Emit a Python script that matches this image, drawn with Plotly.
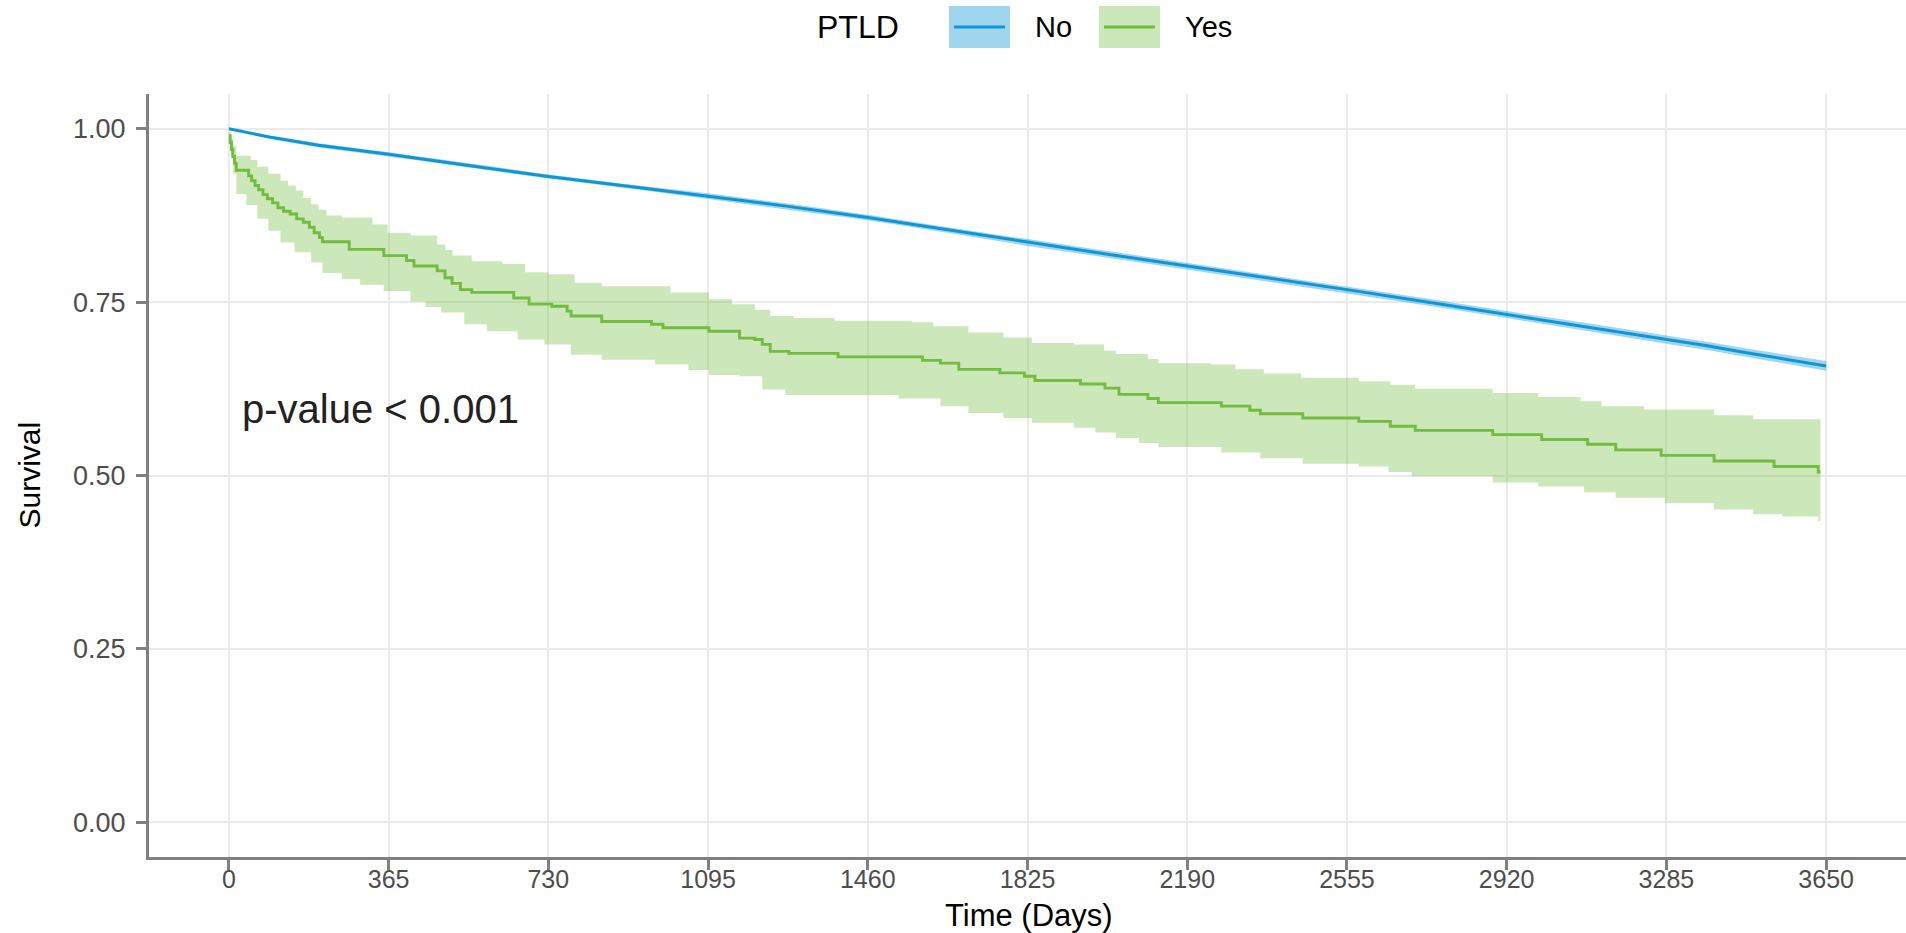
import plotly.graph_objects as go

# ---------------- data ----------------
# PTLD = No (blue), smooth KM curve
no_days = [0, 92, 205, 365, 548, 730, 912, 1095, 1278, 1460, 1643, 1825, 2008, 2190,
           2373, 2555, 2738, 2920, 3103, 3285, 3378, 3468, 3650]
no_surv = [1.000, 0.988, 0.976, 0.963, 0.947, 0.931, 0.917, 0.903, 0.888, 0.872, 0.854,
           0.836, 0.819, 0.802, 0.785, 0.768, 0.750, 0.732, 0.714, 0.696, 0.687, 0.677, 0.658]
no_lower = [1.000, 0.986, 0.973, 0.960, 0.944, 0.928, 0.914, 0.899, 0.884, 0.868, 0.850,
            0.831, 0.814, 0.797, 0.780, 0.763, 0.745, 0.727, 0.708, 0.690, 0.681, 0.671, 0.651]
no_upper = [1.000, 0.990, 0.979, 0.966, 0.950, 0.934, 0.920, 0.907, 0.892, 0.876, 0.858,
            0.841, 0.824, 0.807, 0.790, 0.773, 0.755, 0.737, 0.720, 0.702, 0.693, 0.683, 0.665]

# PTLD = Yes (green), step KM curve
yes_days = [0, 3, 6, 9, 13, 17, 45, 52, 60, 68, 78, 88, 100, 112, 125, 140, 155, 170, 184,
            195, 207, 214, 275, 354, 406, 423, 476, 494, 510, 529, 555, 651, 686, 738, 773,
            782, 852, 966, 992, 1097, 1167, 1202, 1219, 1237, 1280, 1392, 1585, 1626, 1668,
            1762, 1818, 1842, 1946, 2002, 2034, 2100, 2124, 2268, 2333, 2357, 2454, 2582,
            2654, 2711, 2888, 3000, 3105, 3169, 3273, 3394, 3531, 3632, 3637]
yes_surv = [0.990, 0.980, 0.970, 0.960, 0.950, 0.940, 0.932, 0.925, 0.918, 0.912, 0.905,
            0.899, 0.893, 0.886, 0.881, 0.877, 0.870, 0.865, 0.858, 0.850, 0.843, 0.837,
            0.826, 0.817, 0.810, 0.802, 0.795, 0.785, 0.777, 0.768, 0.764, 0.756, 0.747,
            0.744, 0.737, 0.730, 0.722, 0.718, 0.713, 0.708, 0.698, 0.696, 0.689, 0.679,
            0.676, 0.671, 0.666, 0.662, 0.653, 0.648, 0.643, 0.637, 0.632, 0.626, 0.617,
            0.611, 0.605, 0.600, 0.594, 0.589, 0.583, 0.578, 0.571, 0.565, 0.559, 0.552,
            0.545, 0.537, 0.529, 0.521, 0.513, 0.505, 0.505]

yes_up_days = [0, 5, 10, 17, 50, 65, 90, 118, 135, 153, 170, 188, 205, 223, 258, 328, 363,
               415, 476, 495, 511, 555, 625, 677, 730, 790, 852, 1009, 1097, 1150, 1202,
               1237, 1290, 1384, 1561, 1610, 1690, 1770, 1835, 1931, 2000, 2027, 2100, 2124,
               2244, 2300, 2365, 2450, 2582, 2654, 2711, 2888, 2992, 3089, 3137, 3234, 3394,
               3483, 3637]
yes_upper = [0.995, 0.985, 0.975, 0.961, 0.955, 0.945, 0.935, 0.925, 0.918, 0.911, 0.900,
             0.891, 0.883, 0.875, 0.872, 0.862, 0.850, 0.846, 0.833, 0.825, 0.817, 0.809,
             0.805, 0.793, 0.790, 0.778, 0.773, 0.764, 0.754, 0.747, 0.739, 0.730, 0.727,
             0.723, 0.721, 0.715, 0.706, 0.699, 0.691, 0.689, 0.680, 0.675, 0.668, 0.662,
             0.660, 0.653, 0.647, 0.641, 0.636, 0.631, 0.625, 0.619, 0.613, 0.607, 0.600,
             0.595, 0.587, 0.581, 0.578]

yes_lo_days = [0, 5, 10, 17, 40, 65, 90, 118, 150, 188, 214, 258, 300, 354, 415, 450, 485,
               538, 590, 660, 721, 782, 852, 974, 1050, 1097, 1167, 1219, 1272, 1530, 1626,
               1690, 1770, 1835, 1931, 1980, 2027, 2080, 2124, 2268, 2357, 2454, 2582, 2650,
               2703, 2888, 2992, 3097, 3169, 3282, 3394, 3483, 3550, 3632, 3637]
yes_lower = [0.985, 0.960, 0.935, 0.906, 0.890, 0.870, 0.853, 0.836, 0.822, 0.807, 0.792,
             0.783, 0.775, 0.766, 0.751, 0.743, 0.735, 0.718, 0.708, 0.696, 0.689, 0.674,
             0.667, 0.660, 0.652, 0.645, 0.643, 0.624, 0.616, 0.611, 0.600, 0.590, 0.583,
             0.576, 0.569, 0.562, 0.554, 0.547, 0.541, 0.533, 0.525, 0.517, 0.513, 0.505,
             0.499, 0.490, 0.484, 0.476, 0.468, 0.460, 0.451, 0.444, 0.441, 0.434, 0.434]

x_ticks = [0, 365, 730, 1095, 1460, 1825, 2190, 2555, 2920, 3285, 3650]
y_ticks = [0, 0.25, 0.5, 0.75, 1.0]
y_tick_labels = ["0.00", "0.25", "0.50", "0.75", "1.00"]
groups = ["No", "Yes"]
legend_title = "PTLD"
p_text = "p-value < 0.001"

# ---------------- style ----------------
BLUE = "#0f96d6"
GREEN = "#72bc40"
BLUE_FILL = "rgba(15,150,214,0.40)"
GREEN_FILL = "rgba(116,189,68,0.37)"
FONT = "Liberation Sans, Arial, sans-serif"
AXIS_GREY = "#808080"
GRID = "#ebebeb"

W, H = 1906, 933
L, R, T, B = 149, 0, 94, 76
PW, PH = W - L - R, H - T - B


def px_x(px):
    return (px - L) / PW


def px_y(py):
    return (H - B - py) / PH


fig = go.Figure()

# Blue band + line
fig.add_trace(go.Scatter(x=no_days, y=no_lower, mode="lines", line=dict(width=0, color=BLUE),
                         showlegend=False, hoverinfo="skip"))
fig.add_trace(go.Scatter(x=no_days, y=no_upper, mode="lines", line=dict(width=0, color=BLUE),
                         fill="tonexty", fillcolor=BLUE_FILL, showlegend=False, hoverinfo="skip"))
# Green band
fig.add_trace(go.Scatter(x=yes_lo_days, y=yes_lower, mode="lines",
                         line=dict(width=0, color=GREEN, shape="hv"),
                         showlegend=False, hoverinfo="skip"))
fig.add_trace(go.Scatter(x=yes_up_days, y=yes_upper, mode="lines",
                         line=dict(width=0, color=GREEN, shape="hv"),
                         fill="tonexty", fillcolor=GREEN_FILL, showlegend=False, hoverinfo="skip"))
# Lines
fig.add_trace(go.Scatter(x=no_days, y=no_surv, mode="lines", name=groups[0],
                         line=dict(width=3, color=BLUE), showlegend=False))
fig.add_trace(go.Scatter(x=yes_days, y=yes_surv, mode="lines", name=groups[1],
                         line=dict(width=2.9, color=GREEN, shape="hv"), showlegend=False))

# ---------------- manual legend (ggplot style) ----------------
shapes = []
annotations = []
key_specs = [(949, 1010, BLUE_FILL, BLUE, 1033, groups[0]),
             (1099, 1160, GREEN_FILL, GREEN, 1183, groups[1])]
for x0, x1, fc, lc, tx, label in key_specs:
    shapes.append(dict(type="rect", xref="paper", yref="paper",
                       x0=px_x(x0), x1=px_x(x1), y0=px_y(48), y1=px_y(6),
                       fillcolor=fc, line=dict(width=0), layer="above"))
    shapes.append(dict(type="line", xref="paper", yref="paper",
                       x0=px_x(x0 + 5), x1=px_x(x1 - 5), y0=px_y(27), y1=px_y(27),
                       line=dict(color=lc, width=3), layer="above"))
    annotations.append(dict(text=label, xref="paper", yref="paper", x=px_x(tx), y=px_y(27),
                            xanchor="left", yanchor="middle", showarrow=False,
                            font=dict(family=FONT, size=29, color="#000000")))
annotations.append(dict(text=legend_title, xref="paper", yref="paper", x=px_x(815), y=px_y(27),
                        xanchor="left", yanchor="middle", showarrow=False,
                        font=dict(family=FONT, size=32, color="#000000")))

# p-value
annotations.append(dict(text=p_text, xref="x", yref="y", x=25, y=0.596,
                        xanchor="left", yanchor="middle", showarrow=False,
                        font=dict(family=FONT, size=40, color="#222222")))
# axis titles
annotations.append(dict(text="Time (Days)", xref="paper", yref="paper", x=px_x(1029), y=px_y(915),
                        xanchor="center", yanchor="middle", showarrow=False,
                        font=dict(family=FONT, size=31, color="#000000")))
annotations.append(dict(text="Survival", xref="paper", yref="y", x=px_x(29), y=0.5,
                        xanchor="center", yanchor="middle", showarrow=False, textangle=-90,
                        font=dict(family=FONT, size=30, color="#000000")))

fig.update_layout(
    width=W, height=H,
    margin=dict(l=L, r=R, t=T, b=B, pad=0),
    paper_bgcolor="white", plot_bgcolor="white",
    showlegend=False, hovermode=False,
    shapes=shapes, annotations=annotations,
    font=dict(family=FONT),
)
fig.update_xaxes(range=[-182.5, 3832.5], tickmode="array", tickvals=x_ticks,
                 ticktext=[str(v) for v in x_ticks],
                 showgrid=True, gridcolor=GRID, gridwidth=1.6, zeroline=False,
                 showline=True, linecolor=AXIS_GREY, linewidth=3,
                 ticks="outside", ticklen=10, tickwidth=2.5, tickcolor=AXIS_GREY,
                 tickfont=dict(family=FONT, size=25, color="#4d4d4d"),
                 ticklabelstandoff=-12)
fig.update_yaxes(range=[-0.05, 1.05], tickmode="array", tickvals=y_ticks, ticktext=y_tick_labels,
                 showgrid=True, gridcolor=GRID, gridwidth=1.6, zeroline=False,
                 showline=True, linecolor=AXIS_GREY, linewidth=3,
                 ticks="outside", ticklen=10, tickwidth=2.5, tickcolor=AXIS_GREY,
                 tickfont=dict(family=FONT, size=27, color="#4d4d4d"),
                 ticklabelstandoff=5)

fig.write_html("out.html", config={"displayModeBar": False},
               post_script="document.body.style.margin='0';document.body.style.overflow='hidden';")
